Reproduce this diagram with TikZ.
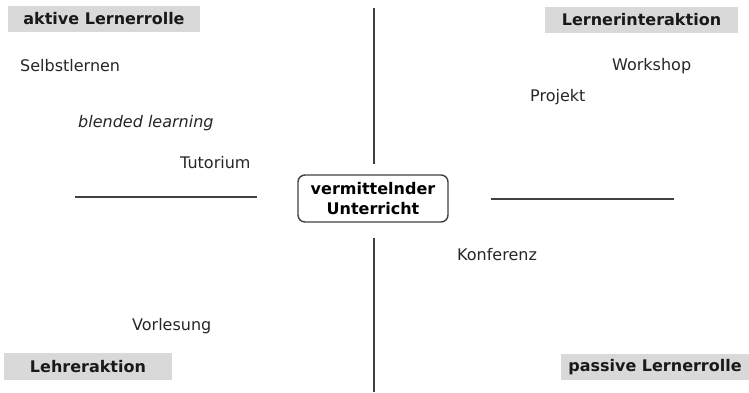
\documentclass[tikz,border=0pt]{standalone}
\usepackage{fontspec}
\setmainfont{DejaVu Sans}
\usepackage{xcolor}
\usetikzlibrary{positioning}

\begin{document}
\begin{tikzpicture}[x=1pt,y=-1pt]
            \tikzset{rolle/.style = {fill=black!15, font=\fontsize{16}{20}\selectfont\bfseries, text=black!90, minimum height=26pt, inner sep=0pt}}
            \tikzset{eintrag/.style = {anchor=base west, inner sep=0pt, text=black!85}}
            \tikzset{achse/.style = {draw=black!75, line width=2.2pt}}
            \tikzset{every node/.append style = {font=\fontsize{16}{20}\selectfont}}

            \useasboundingbox (0,0) rectangle (749,392);

            % middle
            \node[draw=black!75, line width=1.4pt, rounded corners=7pt, minimum width=150pt, minimum height=47pt, inner sep=0pt, align=center, font=\fontsize{16}{20}\selectfont\bfseries] (mitte) at (373,198.5) {vermittelnder\\Unterricht};

            % axes
            \coordinate (oben) at (374,8);
            \coordinate (unten) at (374,392);
            \coordinate (links) at (75,196.7);
            \coordinate (rechts) at (674,198.7);
            \draw[achse, line width=2pt] (oben) -- ([yshift=10pt]mitte.north -| oben);
            \draw[achse, line width=2pt] ([yshift=-15pt]mitte.south -| unten) -- (unten);
            \draw[achse] (links) -- ([xshift=-40pt]mitte.west |- links);
            \draw[achse] ([xshift=42pt]mitte.east |- rechts) -- (rechts);

            % corners
            \node[rolle, minimum width=192pt] (aktiv) at (104,19) {aktive Lernerrolle};
            \node[rolle, minimum width=193pt] (inter) at (641.5,19.5) {Lernerinteraktion};
            \node[rolle, minimum width=168pt, minimum height=27pt] (lehrer) at (88,366.5) {Lehreraktion};
            \node[rolle, minimum width=188pt] (passiv) at (655,367) {passive Lernerrolle};

            % forms
            \node[eintrag] (selbst) at (20,71) {Selbstlernen};
            \node[eintrag, font=\fontsize{16}{20}\selectfont\itshape] (blended) at (78,127) {blended learning};
            \node[eintrag] (tutor) at (180,168) {Tutorium};
            \node[eintrag] (work) at (612,70) {Workshop};
            \node[eintrag] (projekt) at (530,101) {Projekt};
            \node[eintrag] (konf) at (457,260) {Konferenz};
            \node[eintrag] (vorl) at (132,330) {Vorlesung};
\end{tikzpicture}
\end{document}
